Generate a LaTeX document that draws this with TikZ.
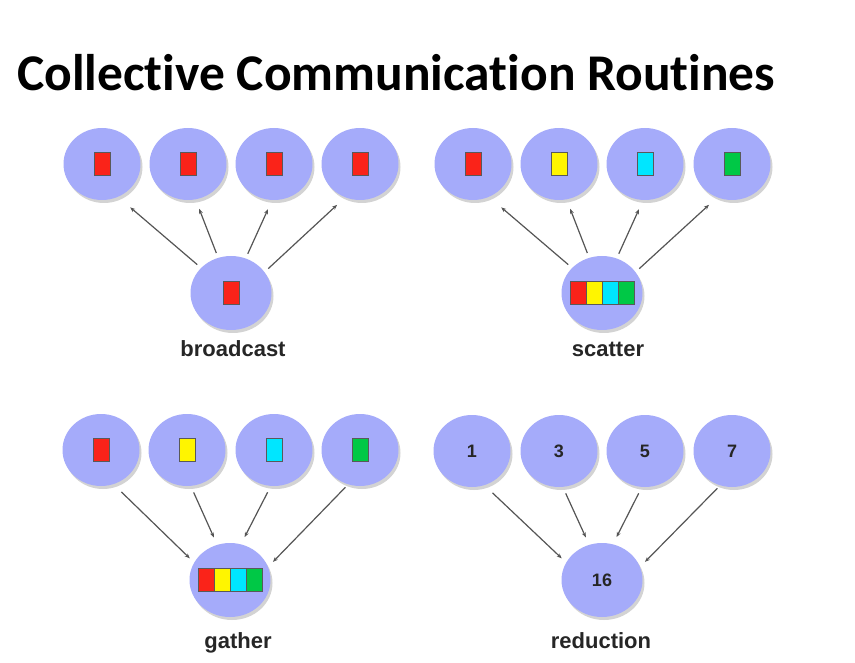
\documentclass[tikz,border=0pt]{standalone}
\usepackage{fontspec}
\newfontfamily\titlefont[RawFeature=-liga, RawFeature=-clig, RawFeature=-calt]{Carlito}
\newfontfamily\labelfont{Liberation Sans}
\usetikzlibrary{arrows.meta,shadows,shapes.geometric}

\definecolor{procblue}{RGB}{165,171,250}
\definecolor{linkgray}{RGB}{85,85,85}
\definecolor{cellred}{RGB}{250,35,25}
\definecolor{cellyellow}{RGB}{255,245,0}
\definecolor{cellcyan}{RGB}{0,230,255}
\definecolor{cellgreen}{RGB}{0,200,70}

\tikzset{
  proc/.style={ellipse, fill=procblue, minimum width=77pt, minimum height=72pt, inner sep=0pt,
    drop shadow={opacity=0.35, shadow xshift=2pt, shadow yshift=-3pt}},
  root/.style={proc, minimum width=81pt, minimum height=74pt},
  cell/.style={draw=black!65, line width=0.6pt, minimum width=16pt, minimum height=23pt, inner sep=0pt},
  link/.style={draw=linkgray, line width=1.2pt, -{Stealth[length=5pt,width=4pt]}},
  grouplabel/.style={font=\labelfont\bfseries\fontsize{22}{26}\selectfont, text=black!85, anchor=base},
  num/.style={font=\labelfont\bfseries\fontsize{18}{21}\selectfont, text=black!85}
}

\begin{document}
\begin{tikzpicture}[x=1pt, y=-1pt]
  \useasboundingbox (0,0) rectangle (855,663);
  \node[anchor=base west, inner sep=0pt, font=\titlefont\bfseries\fontsize{51.5}{60}\selectfont] (title) at (17,91) {Collective Communication Routines};

  % broadcast
  \foreach \i/\x in {1/102,2/188,3/274,4/360}{
    \node[proc] (bc\i) at (\x,164) {};
    \node[cell, fill=cellred] (bcd\i) at (bc\i) {};
  }
  \node[root] (bc) at (231,293) {};
  \node[cell, fill=cellred] (bcd) at (bc) {};
  \foreach \i/\a/\b/\s in {1/140/-64/16, 2/110/-78/10, 3/67/-93/10, 4/32/-114/11}
    \draw[link, shorten <=5pt, shorten >=\s pt] (bc.\a) -- (bc\i.\b);
  \node[grouplabel] (bclabel) at (233,357) {broadcast};

  % scatter
  \foreach \i/\x/\c in {1/473/cellred,2/559/cellyellow,3/645/cellcyan,4/732/cellgreen}{
    \node[proc] (sc\i) at (\x,164) {};
    \node[cell, fill=\c] (scd\i) at (sc\i) {};
  }
  \node[root] (sc) at (602,293) {};
  \foreach \i/\dx/\c in {1/-24/cellred,2/-8/cellyellow,3/8/cellcyan,4/24/cellgreen}
    \node[cell, fill=\c] (scb\i) at ([xshift=\dx pt]sc.center) {};
  \foreach \i/\a/\b/\s in {1/140/-64/16, 2/110/-78/10, 3/67/-93/10, 4/32/-114/11}
    \draw[link, shorten <=5pt, shorten >=\s pt] (sc.\a) -- (sc\i.\b);
  \node[grouplabel] (sclabel) at (608,357) {scatter};

  % gather
  \foreach \i/\x/\c in {1/101/cellred,2/187/cellyellow,3/274/cellcyan,4/360/cellgreen}{
    \node[proc] (ga\i) at (\x,450) {};
    \node[cell, fill=\c] (gad\i) at (ga\i) {};
  }
  \node[root] (ga) at (230,580) {};
  \foreach \i/\dx/\c in {1/-24/cellred,2/-8/cellyellow,3/8/cellcyan,4/24/cellgreen}
    \node[cell, fill=\c] (gab\i) at ([xshift=\dx pt]ga.center) {};
  \foreach \i/\a/\s/\b/\t in {1/-70/11/154/6, 2/-84/7/110/8, 3/-95/7/73/8, 4/-109/4/19/7}
    \draw[link, shorten <=\s pt, shorten >=\t pt] (ga\i.\a) -- (ga.\b);
  \node[grouplabel] (galabel) at (238,648) {gather};

  % reduction
  \foreach \i/\x/\n in {1/472/1,2/559/3,3/645/5,4/732/7}
    \node[proc, num] (rd\i) at (\x,451) {\n};
  \node[root, num] (rd) at (602,580) {16};
  \foreach \i/\a/\s/\b/\t in {1/-70/11/154/6, 2/-84/7/110/8, 3/-95/7/73/8, 4/-109/4/19/7}
    \draw[link, shorten <=\s pt, shorten >=\t pt] (rd\i.\a) -- (rd.\b);
  \node[grouplabel] (rdlabel) at (601,648) {reduction};
\end{tikzpicture}
\end{document}
